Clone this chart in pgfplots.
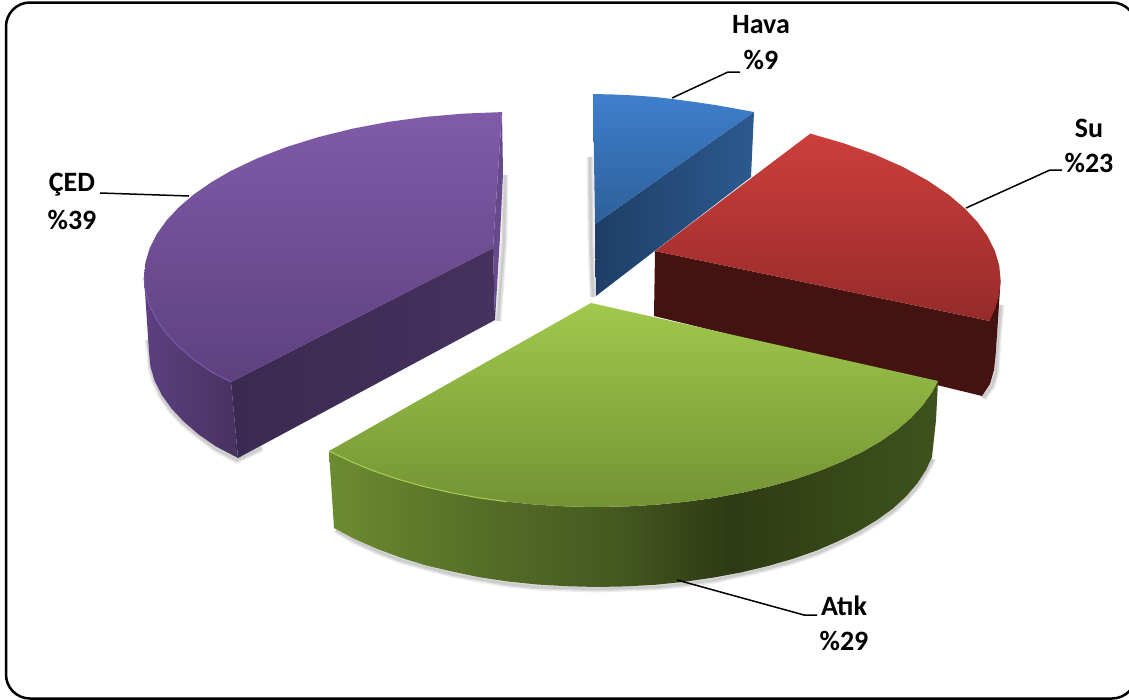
\documentclass[border=0pt]{standalone}
\usepackage{pgfplots}
\pgfplotsset{compat=1.18}
\usepackage{fontspec}
\setmainfont{Carlito}
\definecolor{blueTopA}{HTML}{3E7FCC}
\definecolor{blueTopB}{HTML}{2E5F9A}
\definecolor{blueWallA}{HTML}{1E3E66}
\definecolor{blueWallB}{HTML}{2C5A8F}
\definecolor{redTopA}{HTML}{CC3F3B}
\definecolor{redTopB}{HTML}{962A2B}
\definecolor{redWall}{HTML}{431211}
\definecolor{greenTopA}{HTML}{A0C94C}
\definecolor{greenTopB}{HTML}{739334}
\definecolor{greenRim}{HTML}{A8D058}
\definecolor{purpleTopA}{HTML}{805BA9}
\definecolor{purpleTopB}{HTML}{5E4080}
\definecolor{purpleEdge}{HTML}{664A8C}
\definecolor{purpleRim}{HTML}{7A5AAE}
\definecolor{purpleWallA}{HTML}{5C4080}
\definecolor{purpleWallB}{HTML}{47325F}
\definecolor{purpleWallC}{HTML}{3A2950}
\definecolor{purpleWallD}{HTML}{45325E}
\definecolor{gwA}{HTML}{6C8C30}
\definecolor{gwB}{HTML}{546D27}
\definecolor{gwC}{HTML}{465A20}
\definecolor{gwD}{HTML}{2E3A14}
\definecolor{gwE}{HTML}{384A18}
\definecolor{gwF}{HTML}{3F521C}
% side wall of the green slice: colour stops run across the middle of the shading box
\pgfdeclarehorizontalshading{greenwall}{100bp}{
  color(0bp)=(gwA); color(25bp)=(gwA); color(38bp)=(gwB); color(48bp)=(gwC);
  color(58bp)=(gwD); color(68bp)=(gwE); color(75bp)=(gwF); color(100bp)=(gwF)}
\tikzset{lbl/.style={font=\fontsize{28}{30}\selectfont\bfseries}}
\begin{document}
\begin{tikzpicture}[x=1pt,y=1pt]
\useasboundingbox (0,0) rectangle (1129,699);
\begin{axis}[
  at={(0,0)}, anchor=south west,
  scale only axis, width=1129pt, height=699pt,
  xmin=0, xmax=1129, ymin=0, ymax=699, y dir=reverse,
  hide axis, clip=false, no markers]

% soft drop shadows under the slices
\pgfplotsinvokeforeach{7,4.5,2.5}{
  \addplot[draw=black, opacity=0.07, line width=#1pt] coordinates {
    (336,530)(355,541)(377,551)(400,560)(425,567)(452,574)(479,579)(508,584)(537,587)(566,588)(596,589)(626,588)(656,587)(685,584)(714,580)(742,574)(768,568)(793,561)(817,553)(839,543)(859,533)(877,522)(893,511)(907,498)(918,485)(926,472)(933,459)};
  \addplot[draw=black, opacity=0.07, line width=#1pt] coordinates {
    (148,340)(150,354)(151,368)(155,382)(162,397)(171,410)(184,424)(199,436)(216,449)(237,460)(262,448)};
  \addplot[draw=black, opacity=0.07, line width=#1pt] coordinates {
    (505,175)(504,240)(498,321)};
  \addplot[draw=black, opacity=0.07, line width=#1pt] coordinates {
    (590,157)(591,240)(593,297)};
  \addplot[draw=black, opacity=0.07, line width=#1pt] coordinates {
    (1001,305)(998,340)(996,372)(992,386)(983,398)};
}

% Hava: 9
\addplot[draw=none, left color=blueWallA, right color=blueWallB] coordinates {
  (754,112)(751,177)(596,296)(595,224)} --cycle;
\addplot[draw=none, top color=blueTopA, bottom color=blueTopB] coordinates {
  (593,94)(614,94.5)(635,95.5)(655,97)(672.5,99)(695,102)(715,105)(735,108.5)(754,112)(595,224)} --cycle;

% ÇED: 39
\addplot[draw=none, fill=purpleEdge] coordinates {
  (502,112)(503,173)(500,237)(495,320)(493,248)} --cycle;
\addplot[draw=none, left color=purpleWallA, right color=purpleWallB] coordinates {
  (144,277)(149,352)(150.4,366.4)(154.6,380.6)(161.6,394.7)(171.4,408.4)(183.8,421.7)(198.7,434.5)(216.1,446.6)(238,458)(231,382)(211.1,371.6)(193.7,359.5)(178.8,346.7)(166.4,333.4)(156.6,319.7)(149.6,305.6)(145.4,291.4)} --cycle;
\addplot[draw=none, left color=purpleWallC, right color=purpleWallD] coordinates {
  (493,248)(495,320)(238,458)(231,382)} --cycle;
\addplot[draw=none, top color=purpleTopA, bottom color=purpleTopB] coordinates {
  (502,112.1)(463.4,113.6)(425.2,116.9)(388.1,121.9)(352.4,128.7)(318.4,137.1)(286.6,147)(257.3,158.3)(230.8,170.9)(211.1,182.4)(193.7,194.5)(178.8,207.3)(166.4,220.6)(156.6,234.3)(149.6,248.4)(145.4,262.6)(144,277)(145.4,291.4)(149.6,305.6)(156.6,319.7)(166.4,333.4)(178.8,346.7)(193.7,359.5)(211.1,371.6)(231,382)(493,248)} --cycle;
\addplot[draw=purpleRim, line width=1pt] coordinates {
  (144,277)(145.4,291.4)(149.6,305.6)(156.6,319.7)(166.4,333.4)(178.8,346.7)(193.7,359.5)(211.1,371.6)(231,382)};

% Su: 23
\addplot[draw=none, fill=redWall] coordinates {
  (655,251)(989.3,320.9)(1000.6,280)(998,320)(995.6,355)(994,370)(990,384)(982,396)(654,316)} --cycle;
\addplot[draw=none, top color=redTopA, bottom color=redTopB] coordinates {
  (810.3,133.6)(843.7,143.3)(874.7,154.4)(902.8,166.9)(927.9,180.7)(949.6,195.5)(964.9,208.6)(977.6,222.2)(987.6,236.3)(994.8,250.7)(999.2,265.3)(1000.6,280)(999.2,294.7)(994.8,309.3)(989.3,320.9)(655,251)} --cycle;

% Atık: 29
\addplot[draw=none, shading=greenwall] coordinates {
  (329,451)(334,528)(355.1,539.2)(376.9,548.8)(400.5,557.6)(425.5,565.3)(451.9,571.5)(479.3,577.2)(507.7,581.5)(537,584.5)(566.5,586.2)(596.5,587)(626.5,586.4)(656,584.7)(685.3,581.7)(714,577.5)(741.6,572.3)(768,566)(793,558.8)(816.8,550.5)(838.7,541)(858.8,531)(877,520)(893,508.5)(906.5,496)(917.5,483)(926,470)(932,457)(936,420)(938,381)(931.7,392.5)(922.6,405.3)(911,417.8)(897,429.8)(880.8,441.1)(862.3,451.8)(841.9,461.7)(819.6,470.8)(795.5,479.1)(770,486.3)(743.1,492.5)(715.2,497.7)(686.3,501.7)(656.7,504.7)(626.8,506.4)(596.5,507)(566.2,506.4)(536.3,504.7)(506.7,501.7)(477.8,497.7)(449.9,492.5)(423,486.3)(397.5,479.1)(373.4,470.8)(351.1,461.7)} --cycle;
\addplot[draw=none, top color=greenTopA, bottom color=greenTopB] coordinates {
  (591,303)(938,381)(931.7,392.5)(922.6,405.3)(911,417.8)(897,429.8)(880.8,441.1)(862.3,451.8)(841.9,461.7)(819.6,470.8)(795.5,479.1)(770,486.3)(743.1,492.5)(715.2,497.7)(686.3,501.7)(656.7,504.7)(626.8,506.4)(596.5,507)(566.2,506.4)(536.3,504.7)(506.7,501.7)(477.8,497.7)(449.9,492.5)(423,486.3)(397.5,479.1)(373.4,470.8)(351.1,461.7)(329,451)} --cycle;
\addplot[draw=greenRim, line width=1pt] coordinates {
  (329,451)(351.1,461.7)(373.4,470.8)(397.5,479.1)(423,486.3)(449.9,492.5)(477.8,497.7)(506.7,501.7)};

% leader lines from the slices to their labels
\addplot[draw=black, line width=1.5pt] coordinates {(672,98)(728,72)(740,72)};
\addplot[draw=black, line width=1.5pt] coordinates {(966,208)(1050,170)(1062,170)};
\addplot[draw=black, line width=1.5pt] coordinates {(677,580)(804,615)(817,615)};
\addplot[draw=black, line width=1.5pt] coordinates {(100,193)(189,196)};

% slice labels
\node[lbl] at (axis cs:761,25) {Hava};
\node[lbl] at (axis cs:761,60) {\%9};
\node[lbl] at (axis cs:1089,128) {Su};
\node[lbl] at (axis cs:1089,163) {\%23};
\node[lbl] at (axis cs:844,606) {Atık};
\node[lbl] at (axis cs:844,641) {\%29};
\node[lbl] at (axis cs:72,185) {ÇED};
\node[lbl] at (axis cs:72,220) {\%39};

% chart frame, running off the right-hand edge
\draw[black, line width=2.5pt, rounded corners=24pt]
  (axis cs:6,2.5) rectangle (axis cs:1136,698.5);
\end{axis}
\end{tikzpicture}
\end{document}
